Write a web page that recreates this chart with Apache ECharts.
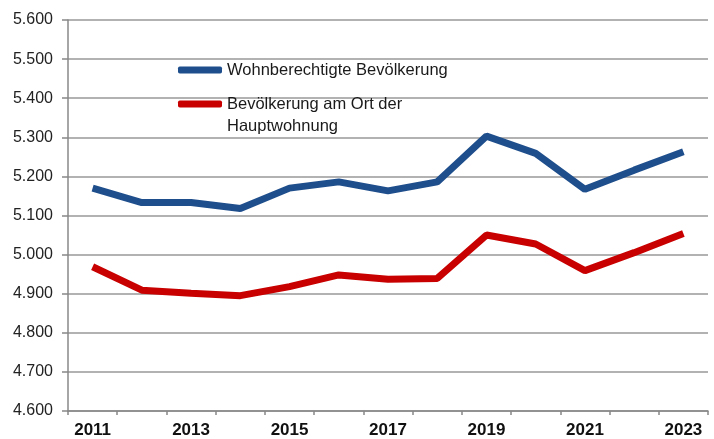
<!DOCTYPE html>
<html>
<head>
<meta charset="utf-8">
<script src="https://cdn.jsdelivr.net/npm/echarts@6/dist/echarts.min.js"></script>
<style>
  html, body { margin: 0; padding: 0; background: #fff; }
  #chart { width: 714px; height: 439px; }
</style>
</head>
<body>
<div id="chart"></div>
<script>
var years = ['2011', '2012', '2013', '2014', '2015', '2016', '2017', '2018', '2019', '2020', '2021', '2022', '2023'];
var wohnberechtigt = [5170, 5133, 5133, 5118, 5170, 5186, 5163, 5186, 5303, 5259, 5167, 5216, 5263];
var hauptwohnung = [4969, 4909, 4901, 4895, 4918, 4948, 4937, 4939, 5050, 5027, 4959, 5005, 5054];
var seriesNames = ['Wohnberechtigte Bevölkerung', 'Bevölkerung am Ort der Hauptwohnung'];

var chart = echarts.init(document.getElementById('chart'));

var legendText = {
  fontFamily: 'Liberation Sans',
  fontSize: 16.5,
  lineHeight: 22,
  color: '#1a1a1a'
};

chart.setOption({
  animation: false,
  grid: { left: 68, right: 6, top: 20, bottom: 28 },
  legend: [{
    data: [seriesNames[0]],
    left: 178,
    top: 59,
    padding: 0,
    icon: 'roundRect',
    itemWidth: 44,
    itemHeight: 7,
    textStyle: legendText
  }, {
    data: [seriesNames[1]],
    left: 178,
    top: 71,
    padding: 0,
    icon: 'roundRect',
    itemWidth: 44,
    itemHeight: 7,
    // blank first line keeps the icon level with the first text line
    formatter: function () { return '\nBevölkerung am Ort der\nHauptwohnung'; },
    textStyle: legendText
  }],
  xAxis: {
    type: 'category',
    data: years,
    boundaryGap: true,
    axisLine: { lineStyle: { color: '#888', width: 1.5 } },
    axisTick: { show: true, interval: 0, length: 4, lineStyle: { color: '#888', width: 1.5 } },
    axisLabel: {
      interval: 1,
      margin: 11,
      color: '#111',
      fontWeight: 'bold',
      fontSize: 17,
      fontFamily: 'Liberation Sans'
    }
  },
  yAxis: {
    type: 'value',
    min: 4600,
    max: 5600,
    interval: 100,
    axisLine: { show: true, lineStyle: { color: '#888', width: 1.5 } },
    axisTick: { show: true, length: 6, lineStyle: { color: '#888', width: 1.5 } },
    splitLine: { lineStyle: { color: '#999', width: 1.5 } },
    axisLabel: {
      margin: 15,
      color: '#222',
      fontSize: 16,
      fontFamily: 'Liberation Sans',
      formatter: function (v) { return (v / 1000).toFixed(3); }
    }
  },
  series: [{
    name: seriesNames[0],
    type: 'line',
    data: wohnberechtigt,
    symbol: 'none',
    lineStyle: { color: '#1F4E8C', width: 7 },
    itemStyle: { color: '#1F4E8C' }
  }, {
    name: seriesNames[1],
    type: 'line',
    data: hauptwohnung,
    symbol: 'none',
    lineStyle: { color: '#C80000', width: 7 },
    itemStyle: { color: '#C80000' }
  }]
});

window.addEventListener('resize', function () {
  chart.resize();
});
</script>
</body>
</html>
